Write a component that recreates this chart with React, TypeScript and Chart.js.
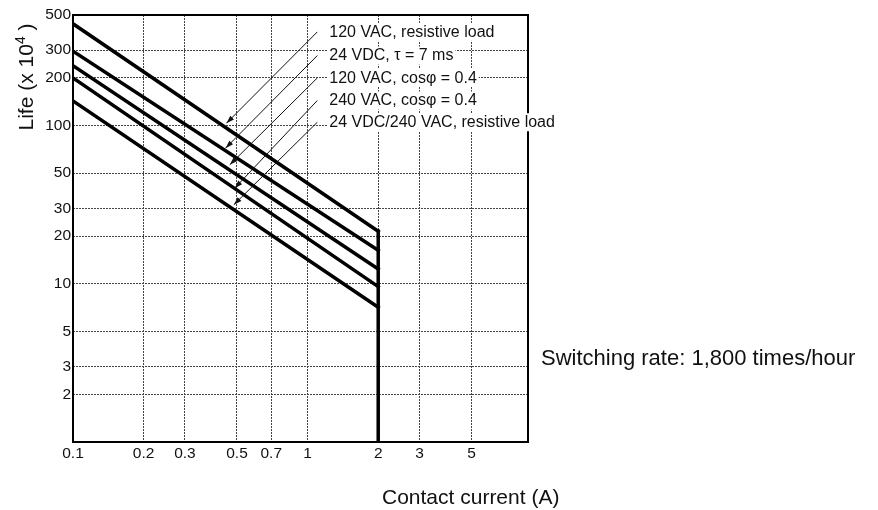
import React, { useEffect, useRef } from 'react';
import { Chart, registerables } from 'chart.js';

Chart.register(...registerables);

// ---- data ----
const currentPoints = [0.1, 2];
const life120VacResistive = [440, 21.5];
const life24VdcTau = [295, 16.3];
const life120VacCos = [239, 12.4];
const life240VacCos = [200, 9.6];
const life24Vdc240VacResistive = [143, 7.1];

const cutoffCurrent = [2, 2];
const cutoffLife = [21.5, 1];

const xTicks = [0.1, 0.2, 0.3, 0.5, 0.7, 1, 2, 3, 5];
const yTicks = [2, 3, 5, 10, 20, 30, 50, 100, 200, 300, 500];

const seriesLabels = [
  '120 VAC, resistive load',
  '24 VDC, \u03C4 = 7 ms',
  '120 VAC, cos\u03C6 = 0.4',
  '240 VAC, cos\u03C6 = 0.4',
  '24 VDC/240 VAC, resistive load',
];
// leader lines: from label (current, life) to arrow tip (current, life)
const leaderFromCurrent = [1.1, 1.1, 1.1, 1.1, 1.1];
const leaderFromLife = [391, 277, 200, 144, 105];
const leaderToCurrent = [0.451, 0.447, 0.466, 0.489, 0.485];
const leaderToLife = [103.5, 72, 56.5, 40.2, 31.6];

const xTitle = 'Contact current (A)';
const yTitleMain = 'Life (x 10';
const yTitleSup = '4';
const yTitleEnd = ' )';
const noteText = 'Switching rate: 1,800 times/hour';

const FONT = '"Liberation Sans", Arial, Helvetica, sans-serif';

const toPoints = (xs: number[], ys: number[]) => xs.map((x, i) => ({ x, y: ys[i] }));

const decorPlugin = {
  id: 'decor',
  afterDraw(chart: any) {
    const { ctx, chartArea: a, scales } = chart;
    const xs = scales.x;
    const ys = scales.y;
    ctx.save();

    // frame
    ctx.strokeStyle = '#000';
    ctx.lineWidth = 2;
    ctx.setLineDash([]);
    ctx.strokeRect(a.left, a.top, a.right - a.left, a.bottom - a.top);

    // leader lines + labels
    ctx.font = `16px ${FONT}`;
    ctx.textBaseline = 'middle';
    ctx.textAlign = 'left';
    for (let i = 0; i < seriesLabels.length; i++) {
      const x1 = xs.getPixelForValue(leaderFromCurrent[i]);
      const y1 = ys.getPixelForValue(leaderFromLife[i]);
      const x2 = xs.getPixelForValue(leaderToCurrent[i]);
      const y2 = ys.getPixelForValue(leaderToLife[i]);
      ctx.strokeStyle = '#111';
      ctx.lineWidth = 1;
      ctx.beginPath();
      ctx.moveTo(x1, y1);
      ctx.lineTo(x2, y2);
      ctx.stroke();
      const ang = Math.atan2(y2 - y1, x2 - x1);
      const L = 8, W = 2.6;
      ctx.fillStyle = '#111';
      ctx.beginPath();
      ctx.moveTo(x2, y2);
      ctx.lineTo(x2 - L * Math.cos(ang) + W * Math.sin(ang), y2 - L * Math.sin(ang) - W * Math.cos(ang));
      ctx.lineTo(x2 - L * Math.cos(ang) - W * Math.sin(ang), y2 - L * Math.sin(ang) + W * Math.cos(ang));
      ctx.closePath();
      ctx.fill();

      const tx = x1 + 12;
      const tw = ctx.measureText(seriesLabels[i]).width;
      ctx.fillStyle = '#fff';
      ctx.fillRect(tx - 2, y1 - 9, tw + 4, 18);
      ctx.fillStyle = '#111';
      ctx.fillText(seriesLabels[i], tx, y1 + 0.5);
    }

    // x axis title
    ctx.font = `21px ${FONT}`;
    ctx.textBaseline = 'alphabetic';
    ctx.textAlign = 'left';
    ctx.fillStyle = '#111';
    ctx.fillText(xTitle, a.left + 309, a.bottom + 62);

    // note on the right
    ctx.font = `22px ${FONT}`;
    ctx.fillText(noteText, a.right + 13, a.bottom - 77);

    // y axis title (rotated, with superscript)
    ctx.save();
    ctx.translate(a.left - 40, a.top + 62);
    ctx.rotate(-Math.PI / 2);
    const big = `21px ${FONT}`;
    const small = `14px ${FONT}`;
    ctx.font = big;
    const w1 = ctx.measureText(yTitleMain).width;
    const w3 = ctx.measureText(yTitleEnd).width;
    ctx.font = small;
    const w2 = ctx.measureText(yTitleSup).width;
    const start = -(w1 + w2 + w3) / 2;
    ctx.font = big;
    ctx.fillText(yTitleMain, start, 0);
    ctx.font = small;
    ctx.fillText(yTitleSup, start + w1, -8);
    ctx.font = big;
    ctx.fillText(yTitleEnd, start + w1 + w2, 0);
    ctx.restore();

    ctx.restore();
  },
};

export default function App() {
  const canvasRef = useRef<HTMLCanvasElement | null>(null);

  useEffect(() => {
    if (!canvasRef.current) return;
    const lineStyle = {
      borderColor: '#000',
      borderWidth: 3.5,
      pointRadius: 0,
      tension: 0,
      fill: false,
      borderCapStyle: 'square' as const,
      borderJoinStyle: 'miter' as const,
    };
    const chart = new Chart(canvasRef.current, {
      type: 'line',
      data: {
        datasets: [
          { label: seriesLabels[0], data: toPoints(currentPoints, life120VacResistive), ...lineStyle },
          { label: seriesLabels[1], data: toPoints(currentPoints, life24VdcTau), ...lineStyle },
          { label: seriesLabels[2], data: toPoints(currentPoints, life120VacCos), ...lineStyle },
          { label: seriesLabels[3], data: toPoints(currentPoints, life240VacCos), ...lineStyle },
          { label: seriesLabels[4], data: toPoints(currentPoints, life24Vdc240VacResistive), ...lineStyle },
          { label: 'cutoff', data: toPoints(cutoffCurrent, cutoffLife), ...lineStyle },
        ],
      },
      options: {
        animation: false,
        responsive: true,
        maintainAspectRatio: false,
        devicePixelRatio: 1,
        layout: { padding: { left: 0, right: 350, top: 15, bottom: 0 } },
        plugins: {
          legend: { display: false },
          tooltip: { enabled: false },
          title: { display: false },
        },
        scales: {
          x: {
            type: 'logarithmic',
            min: 0.1,
            max: 8.7,
            afterBuildTicks: (scale: any) => {
              scale.ticks = xTicks.map((v) => ({ value: v }));
            },
            afterFit: (scale: any) => {
              scale.height = 68;
            },
            ticks: {
              autoSkip: false,
              maxRotation: 0,
              minRotation: 0,
              padding: 2,
              color: '#111',
              font: { family: FONT, size: 15.5 },
              callback: (v: any) => String(v),
            },
            grid: { color: '#444', lineWidth: 1, drawTicks: false },
            border: { display: false, dash: [2, 1] },
          },
          y: {
            type: 'logarithmic',
            min: 1,
            max: 500,
            afterBuildTicks: (scale: any) => {
              scale.ticks = yTicks.map((v) => ({ value: v }));
            },
            afterFit: (scale: any) => {
              scale.width = 73;
            },
            ticks: {
              autoSkip: false,
              padding: 2,
              color: '#111',
              font: { family: FONT, size: 15.5 },
              callback: (v: any) => String(v),
            },
            grid: { color: '#444', lineWidth: 1, drawTicks: false },
            border: { display: false, dash: [2, 1] },
          },
        },
      },
      plugins: [decorPlugin],
    });
    return () => chart.destroy();
  }, []);

  return (
    <div style={{ position: 'fixed', left: 0, top: 0, width: 878, height: 510, background: '#fff' }}>
      <canvas ref={canvasRef} style={{ display: 'block' }} />
    </div>
  );
}
